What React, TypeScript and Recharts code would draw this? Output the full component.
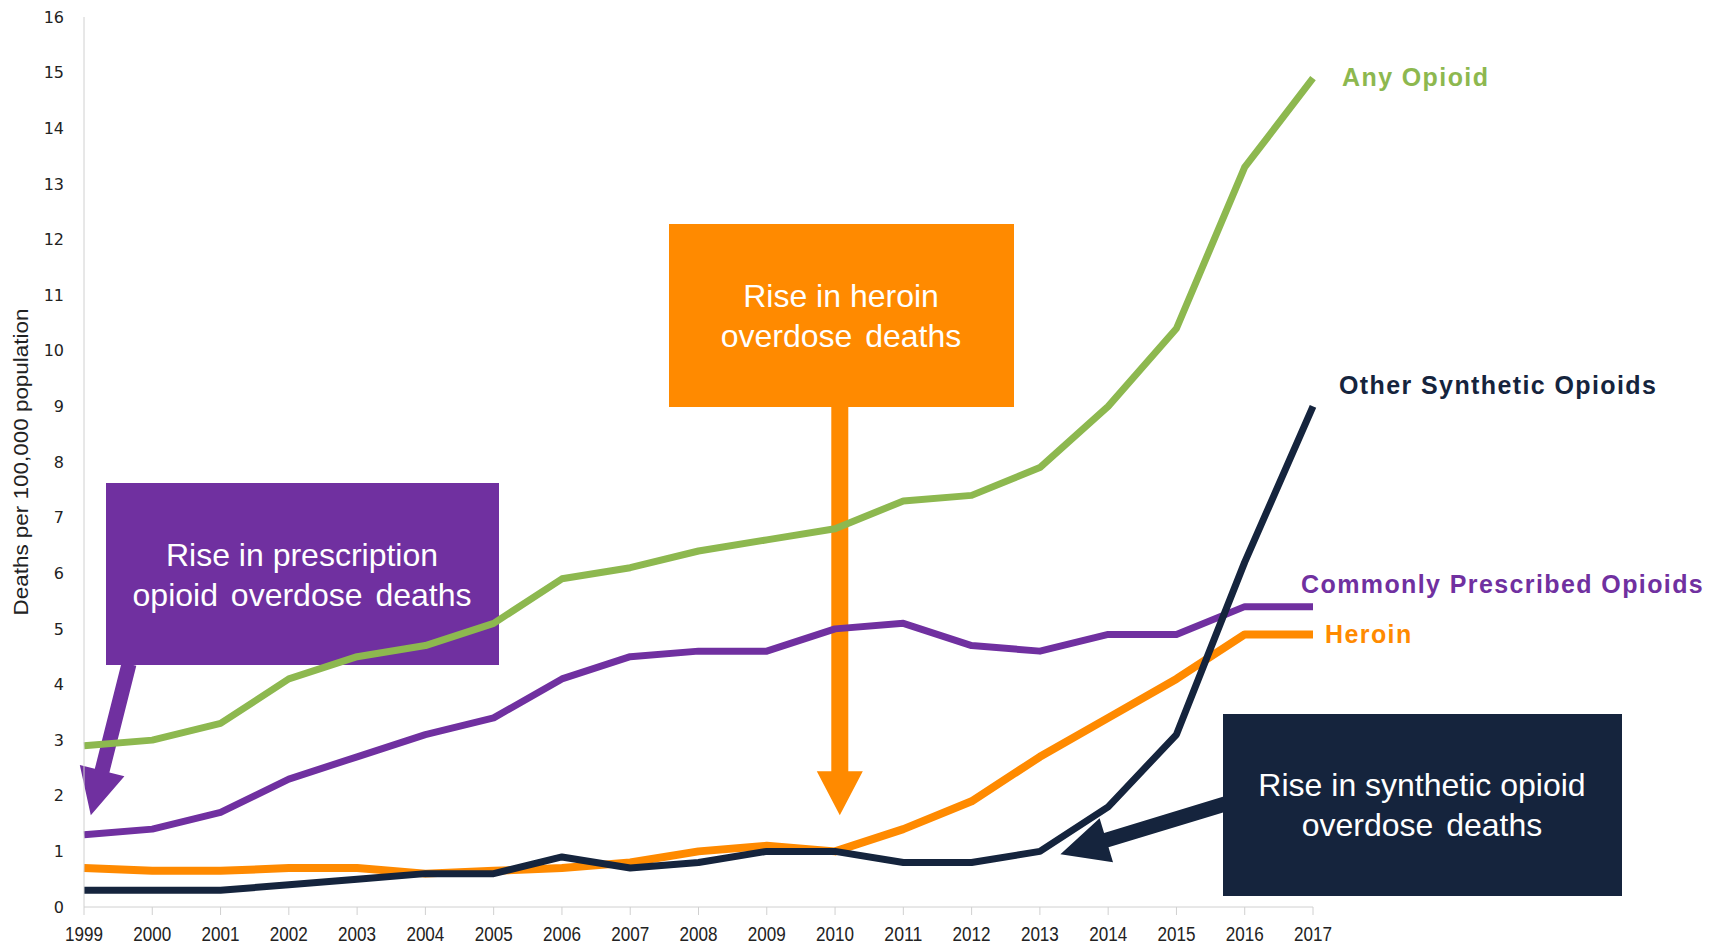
import { LineChart, Line, XAxis, YAxis, Customized } from "recharts"

const years = [1999, 2000, 2001, 2002, 2003, 2004, 2005, 2006, 2007, 2008, 2009, 2010, 2011, 2012, 2013, 2014, 2015, 2016, 2017]
const anyOpioid = [2.9, 3.0, 3.3, 4.1, 4.5, 4.7, 5.1, 5.9, 6.1, 6.4, 6.6, 6.8, 7.3, 7.4, 7.9, 9.0, 10.4, 13.3, 14.9]
const prescribed = [1.3, 1.4, 1.7, 2.3, 2.7, 3.1, 3.4, 4.1, 4.5, 4.6, 4.6, 5.0, 5.1, 4.7, 4.6, 4.9, 4.9, 5.4, 5.4]
const heroin = [0.7, 0.65, 0.65, 0.7, 0.7, 0.6, 0.65, 0.7, 0.8, 1.0, 1.1, 1.0, 1.4, 1.9, 2.7, 3.4, 4.1, 4.9, 4.9]
const synthetic = [0.3, 0.3, 0.3, 0.4, 0.5, 0.6, 0.6, 0.9, 0.7, 0.8, 1.0, 1.0, 0.8, 0.8, 1.0, 1.8, 3.1, 6.2, 9.0]
const yTicks = [0, 1, 2, 3, 4, 5, 6, 7, 8, 9, 10, 11, 12, 13, 14, 15, 16]

const data = years.map((y, i) => ({
  year: y,
  any: anyOpioid[i],
  rx: prescribed[i],
  heroin: heroin[i],
  synth: synthetic[i],
}))

const W = 1717
const H = 945
const M = { top: 17, right: 404, bottom: 8, left: 24 }
const Y_AXIS_W = 60
const X_AXIS_H = 30
const PLOT_L = M.left + Y_AXIS_W
const PLOT_W = W - PLOT_L - M.right
const PLOT_T = M.top
const PLOT_H = H - M.top - M.bottom - X_AXIS_H

const GREEN = "#8db84f"
const PURPLE = "#7030a0"
const ORANGE = "#ff8a00"
const NAVY = "#15243d"

// map data coords to pixels, same as the chart's plot area
const px = (yr: number) => PLOT_L + ((yr - 1999) / 18) * PLOT_W
const py = (v: number) => PLOT_T + PLOT_H - (v / 16) * PLOT_H

function arrow(x1: number, y1: number, x2: number, y2: number, sw: number, hw: number, hl: number) {
  const dx = x2 - x1
  const dy = y2 - y1
  const len = Math.sqrt(dx * dx + dy * dy)
  const ux = dx / len
  const uy = dy / len
  const nx = -uy
  const ny = ux
  const bx = x2 - ux * hl
  const by = y2 - uy * hl
  const pts = [
    [x1 + nx * sw / 2, y1 + ny * sw / 2],
    [bx + nx * sw / 2, by + ny * sw / 2],
    [bx + nx * hw / 2, by + ny * hw / 2],
    [x2, y2],
    [bx - nx * hw / 2, by - ny * hw / 2],
    [bx - nx * sw / 2, by - ny * sw / 2],
    [x1 - nx * sw / 2, y1 - ny * sw / 2],
  ]
  return pts.map((p) => p[0].toFixed(1) + "," + p[1].toFixed(1)).join(" ")
}

const boxFont = "Arial, 'Liberation Sans', sans-serif"

function YearTick(props: any) {
  const { x, y, payload } = props
  return (
    <text
      x={x}
      y={y + 24}
      textAnchor="middle"
      fill="#222"
      fontSize={20}
      textLength={38}
      lengthAdjust="spacingAndGlyphs"
      fontFamily="'Liberation Sans', sans-serif"
    >
      {payload.value}
    </text>
  )
}

function Annotations() {
  const label = { fontSize: 25, fontWeight: "bold" as const, fontFamily: boxFont, letterSpacing: 1.4 }
  const boxText = { fontSize: 32, fontFamily: boxFont, fill: "#fff", textAnchor: "middle" as const }
  return (
    <g>
      {/* purple box + arrow */}
      <polygon points={arrow(129, 664, px(1999.1), py(1.65), 15, 46, 46)} fill={PURPLE} />
      <rect x={106} y={483} width={393} height={182} fill={PURPLE} />
      <text x={302} y={566} {...boxText}>Rise in prescription</text>
      <text x={302} y={606} {...boxText} wordSpacing={4}>opioid overdose deaths</text>

      {/* orange box + arrow */}
      <polygon points={arrow(px(2010.07), 405, px(2010.07), py(1.65), 17, 46, 44)} fill={ORANGE} />
      <rect x={669} y={224} width={345} height={183} fill={ORANGE} />
      <text x={841} y={307} {...boxText}>Rise in heroin</text>
      <text x={841} y={347} {...boxText} wordSpacing={4}>overdose deaths</text>

      {/* navy box + arrow */}
      <polygon points={arrow(1225, 804, px(2013.3), py(0.95), 15, 46, 48)} fill={NAVY} />
      <rect x={1223} y={714} width={399} height={182} fill={NAVY} />
      <text x={1422} y={796} {...boxText}>Rise in synthetic opioid</text>
      <text x={1422} y={836} {...boxText} wordSpacing={4}>overdose deaths</text>

      {/* series labels */}
      <text x={1342} y={77} dominantBaseline="central" fill={GREEN} {...label}>Any Opioid</text>
      <text x={1339} y={385} dominantBaseline="central" fill={NAVY} {...label}>Other Synthetic Opioids</text>
      <text x={1301} y={584} dominantBaseline="central" fill={PURPLE} {...label}>Commonly Prescribed Opioids</text>
      <text x={1325} y={634} dominantBaseline="central" fill={ORANGE} {...label}>Heroin</text>

      {/* y axis title */}
      <text
        x={20}
        y={462}
        transform="rotate(-90 20 462)"
        textAnchor="middle"
        dominantBaseline="central"
        fill="#222"
        fontSize={21}
        textLength={307}
        lengthAdjust="spacingAndGlyphs"
        fontFamily="'Liberation Sans', sans-serif"
      >
        Deaths per 100,000 population
      </text>
    </g>
  )
}

export default function App() {
  return (
    <div style={{ position: "absolute", left: 0, top: 0, width: W, height: H, background: "#fff" }}>
      <LineChart width={W} height={H} data={data} margin={M}>
        <XAxis
          dataKey="year"
          type="number"
          domain={[1999, 2017]}
          ticks={years}
          interval={0}
          height={X_AXIS_H}
          stroke="#d0d0d0"
          tickSize={8}
          tick={<YearTick />}
        />
        <YAxis
          type="number"
          domain={[0, 16]}
          ticks={yTicks}
          interval={0}
          width={Y_AXIS_W}
          stroke="#d0d0d0"
          tickLine={false}
          tickMargin={14}
          tick={{ fill: "#222", fontSize: 16, fontFamily: "'DejaVu Sans', sans-serif" }}
        />
        <Line dataKey="any" type="linear" stroke={GREEN} strokeWidth={7} strokeLinejoin="round" dot={false} isAnimationActive={false} />
        <Line dataKey="rx" type="linear" stroke={PURPLE} strokeWidth={7} strokeLinejoin="round" dot={false} isAnimationActive={false} />
        <Line dataKey="heroin" type="linear" stroke={ORANGE} strokeWidth={8} strokeLinejoin="round" dot={false} isAnimationActive={false} />
        <Line dataKey="synth" type="linear" stroke={NAVY} strokeWidth={7} strokeLinejoin="round" dot={false} isAnimationActive={false} />
        <Customized component={Annotations} />
      </LineChart>
    </div>
  )
}
